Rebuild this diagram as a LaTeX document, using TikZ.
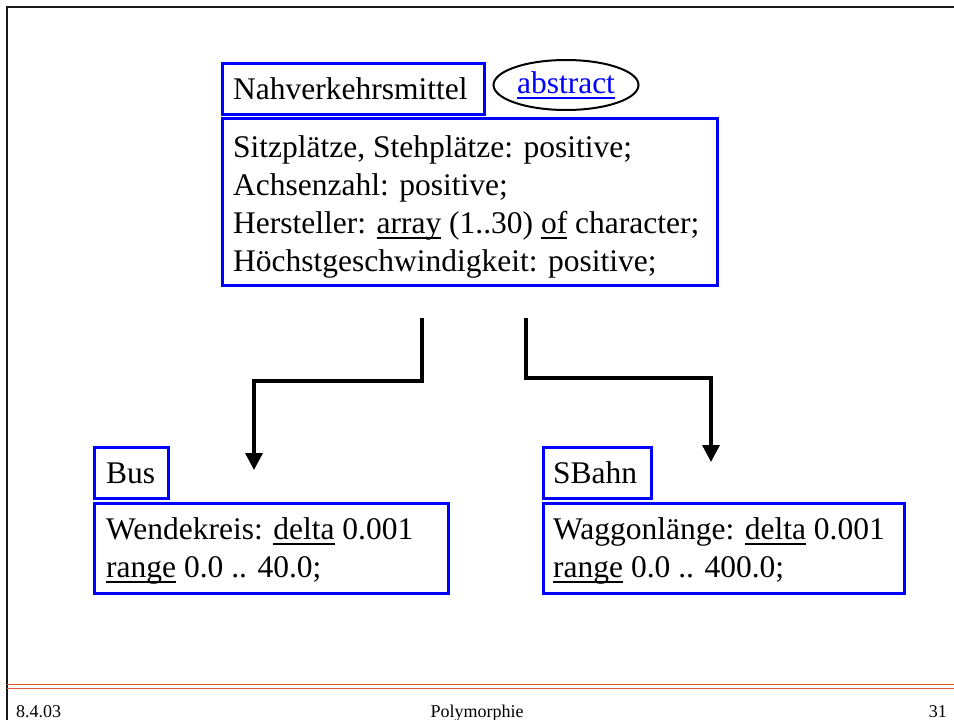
\documentclass[tikz,border=0pt]{standalone}
\usepackage{fontspec}
\setmainfont{Liberation Serif}
\usetikzlibrary{arrows.meta,shapes.geometric}
\definecolor{boxblue}{RGB}{0,0,255}
\definecolor{footred}{RGB}{222,95,55}
\definecolor{framegray}{RGB}{25,25,25}
\newsavebox\ulbox
\newcommand\myul[1]{\sbox\ulbox{#1}\rlap{\rule[-6pt]{\wd\ulbox}{2pt}}\usebox\ulbox}
\begin{document}
\begin{tikzpicture}[x=1pt,y=-1pt,
  bbox/.style={draw=boxblue, line width=3pt, inner sep=0pt, anchor=north west},
  txt/.style={anchor=base west, inner sep=0pt, font=\fontsize{31.5}{37.8}\selectfont},
  conn/.style={line width=3.3pt, -{Triangle[length=17pt,width=17pt]}},
  foot/.style={inner sep=0pt, font=\fontsize{18}{20}\selectfont}]
\useasboundingbox (0,0) rectangle (954,720);
% frame
\draw[framegray, line width=2.5pt] (954,7) -- (7,7) -- (7,720);
% footer lines
\draw[footred, line width=1.5pt] (7,684.5) -- (954,684.5);
\draw[footred, line width=1.5pt] (7,688.5) -- (954,688.5);
\node[foot, anchor=base west] (fdate) at (16,717) {8.4.03};
\node[foot, anchor=base] (ftitle) at (477,717) {Polymorphie};
\node[foot, anchor=base east] (fpage) at (947,717) {31};
% boxes
\node[bbox, minimum width=262pt, minimum height=51pt] (nvname) at (221,62) {};
\node[ellipse, draw=black, line width=2pt, minimum width=145pt, minimum height=50pt, inner sep=0pt] (abs) at (566,85) {};
\node[bbox, minimum width=495pt, minimum height=167pt] (nvattr) at (221,117) {};
\node[bbox, minimum width=74pt, minimum height=51pt] (busname) at (93,446) {};
\node[bbox, minimum width=354pt, minimum height=90pt] (busattr) at (93,502) {};
\node[bbox, minimum width=108pt, minimum height=51pt] (sbname) at (542,446) {};
\node[bbox, minimum width=361pt, minimum height=90pt] (sbattr) at (542,502) {};
% texts
\node[txt] (t1) at (233,99.3) {Nahverkehrsmittel};
\node[txt, anchor=base, text=boxblue] (t2) at (566,93.3) {\myul{abstract}};
\node[txt] (t3) at (233,157) {Sitzplätze, Stehplätze: positive;};
\node[txt] (t4) at (233,195) {Achsenzahl: positive;};
\node[txt] (t5) at (233,233) {Hersteller: \myul{array} (1..30) \myul{of} character;};
\node[txt] (t6) at (233,271) {Höchstgeschwindigkeit: positive;};
\node[txt] (t7) at (106,483.3) {Bus};
\node[txt] (t8) at (106,539) {Wendekreis: \myul{delta} 0.001};
\node[txt] (t9) at (106,577) {\myul{range} 0.0 .. 40.0;};
\node[txt] (t10) at (553,483.3) {SBahn};
\node[txt] (t11) at (553,539) {Waggonlänge: \myul{delta} 0.001};
\node[txt] (t12) at (553,577) {\myul{range} 0.0 .. 400.0;};
% connectors
\coordinate (a1s) at (422,318);
\coordinate (a1b) at (422,381);
\coordinate (a1e) at (254,470);
\coordinate (a2s) at (526,318);
\coordinate (a2b) at (526,378);
\coordinate (a2e) at (711,462);
\draw[conn] (a1s) -- (a1b) -| (a1e);
\draw[conn] (a2s) -- (a2b) -| (a2e);
\end{tikzpicture}
\end{document}
